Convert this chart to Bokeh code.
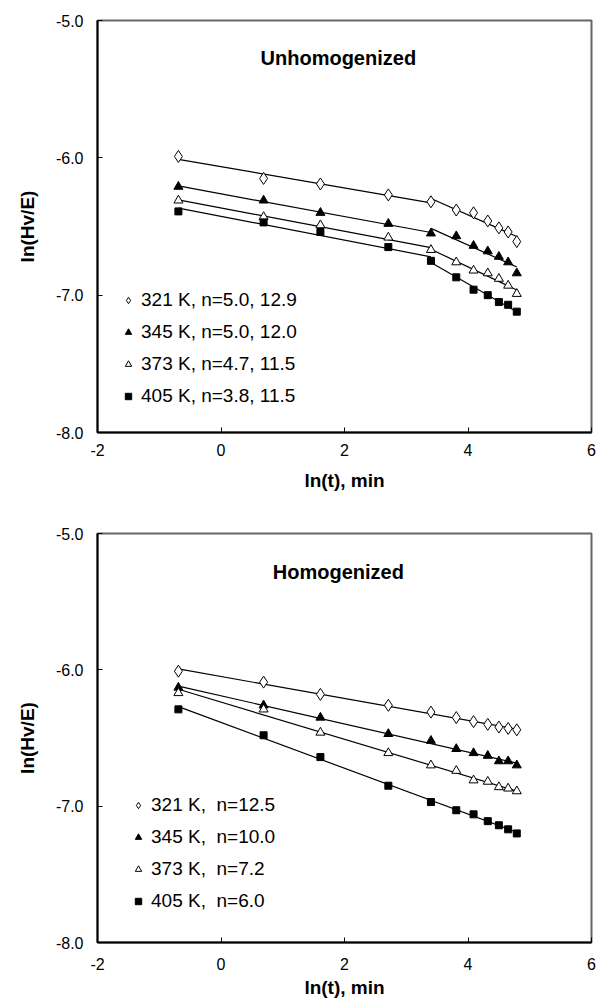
import numpy as np
from bokeh.plotting import figure
from bokeh.layouts import column
from bokeh.models import Range1d, FixedTicker, NumeralTickFormatter, Label, Legend, LegendItem
from bokeh.embed import file_html
from bokeh.resources import INLINE

# ---------------- data ----------------
ln_t = [-0.69, 0.69, 1.61, 2.71, 3.40, 3.81, 4.09, 4.32, 4.50, 4.65, 4.79]

unhom_321 = [-5.99, -6.15, -6.19, -6.27, -6.32, -6.38, -6.40, -6.46, -6.51, -6.54, -6.61]
unhom_345 = [-6.21, -6.31, -6.40, -6.48, -6.55, -6.57, -6.64, -6.68, -6.72, -6.76, -6.84]
unhom_373 = [-6.31, -6.43, -6.49, -6.58, -6.67, -6.76, -6.82, -6.84, -6.88, -6.93, -6.99]
unhom_405 = [-6.39, -6.47, -6.54, -6.65, -6.75, -6.87, -6.96, -7.00, -7.05, -7.07, -7.12]

hom_321 = [-6.01, -6.09, -6.18, -6.26, -6.31, -6.35, -6.38, -6.40, -6.42, -6.43, -6.44]
hom_345 = [-6.13, -6.26, -6.35, -6.47, -6.52, -6.58, -6.61, -6.63, -6.67, -6.67, -6.70]
hom_373 = [-6.17, -6.29, -6.46, -6.61, -6.70, -6.74, -6.81, -6.82, -6.86, -6.87, -6.89]
hom_405 = [-6.29, -6.48, -6.64, -6.85, -6.97, -7.03, -7.06, -7.11, -7.14, -7.17, -7.20]

unhom_labels = ["321 K, n=5.0, 12.9", "345 K, n=5.0, 12.0",
                "373 K, n=4.7, 11.5", "405 K, n=3.8, 11.5"]
hom_labels = ["321 K,\u00a0 n=12.5", "345 K,\u00a0 n=10.0",
              "373 K,\u00a0 n=7.2", "405 K,\u00a0 n=6.0"]

title_top = "Unhomogenized"
title_bottom = "Homogenized"
x_label = "ln(t), min"
y_label = "ln(Hv/E)"
x_ticks = [-2, 0, 2, 4, 6]
y_ticks = [-8.0, -7.0, -6.0, -5.0]
break_index = 4  # unhomogenized curves change slope at ln(t)=3.4

FONT = "Liberation Sans"

# marker styles: (marker, size, fill)
styles = [
    ("diamond", 12, "white"),
    ("triangle", 9, "black"),
    ("triangle", 9, "white"),
    ("square", 7, "black"),
]


def make_fig(height, border_left, border_right, border_top, border_bottom,
             tick_standoff, label_standoff):
    p = figure(width=598, height=height, output_backend="svg", toolbar_location=None,
               x_range=Range1d(-2, 6), y_range=Range1d(-8, -5),
               min_border_left=border_left, min_border_right=border_right,
               min_border_top=border_top, min_border_bottom=border_bottom,
               background_fill_color="white", border_fill_color="white")
    p.grid.visible = False
    p.outline_line_color = "#666666"
    p.outline_line_width = 2
    for ax in (p.xaxis[0], p.yaxis[0]):
        ax.axis_line_color = "black"
        ax.axis_line_width = 2
        ax.major_tick_in = 5
        ax.major_tick_out = 0
        ax.minor_tick_line_color = None
        ax.major_tick_line_color = "black"
        ax.major_tick_line_width = 1
        ax.major_label_text_font = FONT
        ax.major_label_text_font_size = "16px"
        ax.major_label_text_color = "black"
        ax.axis_label_text_font = FONT
        ax.axis_label_text_font_style = "bold"
        ax.axis_label_text_font_size = "19px"
        ax.axis_label_text_color = "black"
    p.xaxis[0].ticker = FixedTicker(ticks=x_ticks)
    p.yaxis[0].ticker = FixedTicker(ticks=y_ticks)
    p.xaxis[0].formatter = NumeralTickFormatter(format="0")
    p.yaxis[0].formatter = NumeralTickFormatter(format="0.0")
    p.xaxis[0].axis_label = x_label
    p.yaxis[0].axis_label = y_label
    p.xaxis[0].major_label_standoff = tick_standoff
    p.yaxis[0].major_label_standoff = 14
    p.xaxis[0].axis_label_standoff = label_standoff
    p.yaxis[0].axis_label_standoff = 15
    return p


def add_series(p, series, labels, segments, legend_loc, standoff, row_h, spacing):
    items = []
    for ys, lab, (mk, sz, fill) in zip(series, labels, styles):
        x = np.array(ln_t)
        y = np.array(ys)
        for (a, b) in segments:
            xs = x[a:b + 1]
            coef = np.polyfit(xs, y[a:b + 1], 1)
            ends = np.array([xs[0], xs[-1]])
            p.line(ends, np.polyval(coef, ends), line_color="black", line_width=1.2)
        r = p.scatter(x, y, marker=mk, size=sz, fill_color=fill,
                      line_color="black", line_width=1)
        items.append(LegendItem(label=lab, renderers=[r]))
    leg = Legend(items=items, location=legend_loc, orientation="vertical",
                 border_line_color=None, background_fill_alpha=0,
                 padding=0, margin=0, spacing=spacing,
                 glyph_width=16, glyph_height=16, label_height=row_h,
                 label_standoff=standoff,
                 label_text_font=FONT, label_text_font_size="19px",
                 label_text_color="black")
    p.add_layout(leg)


# ---------------- top: unhomogenized ----------------
p1 = make_fig(502, 93, 7, 20, 70, 11, 11)
add_series(p1, [unhom_321, unhom_345, unhom_373, unhom_405], unhom_labels,
           [(0, break_index), (break_index, len(ln_t) - 1)], (23, 25), 5, 22, 10)
p1.add_layout(Label(x=1.9, y=-5.27, text=title_top, text_font=FONT, text_font_style="bold",
                    text_font_size="20px", text_align="center", text_baseline="middle",
                    text_color="black"))

# ---------------- bottom: homogenized ----------------
p2 = make_fig(501, 97, 6, 31, 61, 15, 4)
add_series(p2, [hom_321, hom_345, hom_373, hom_405], hom_labels,
           [(0, len(ln_t) - 1)], (33, 30), 5, 21, 10)
p2.add_layout(Label(x=1.9, y=-5.28, text=title_bottom, text_font=FONT, text_font_style="bold",
                    text_font_size="20px", text_align="center", text_baseline="middle",
                    text_color="black"))

layout = column(p1, p2, spacing=0)
open("out.html", "w").write(file_html(layout, INLINE))
